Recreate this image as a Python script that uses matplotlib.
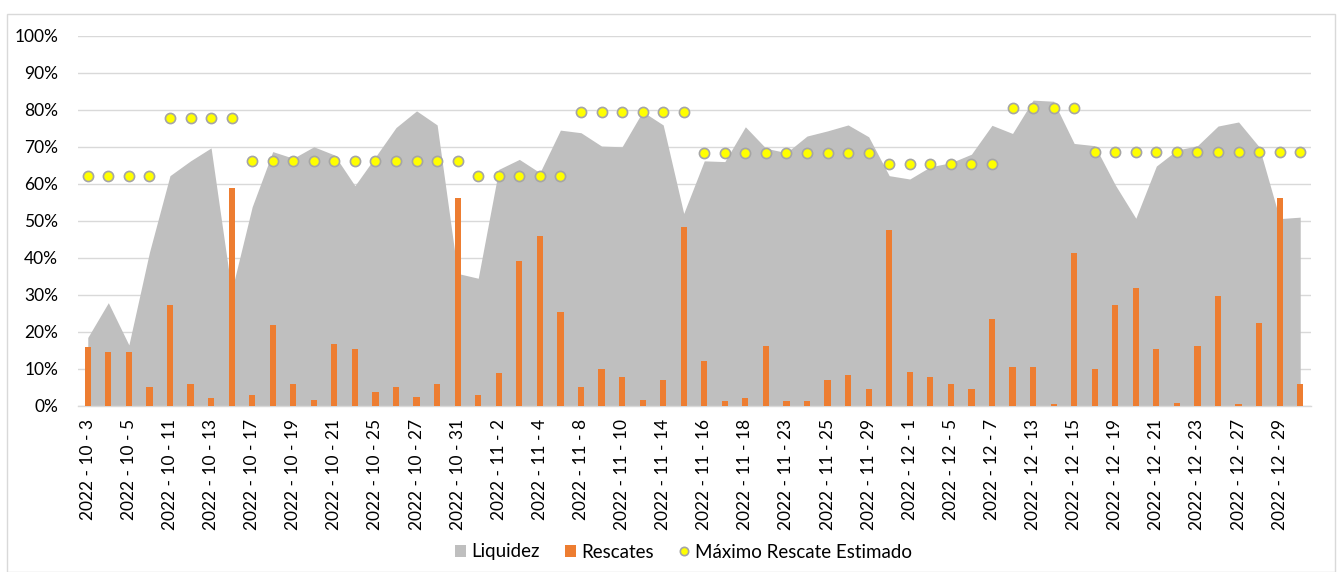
import matplotlib
matplotlib.use("Agg")
import matplotlib.pyplot as plt
from matplotlib.patches import Patch, Rectangle
from matplotlib.lines import Line2D
from matplotlib.ticker import PercentFormatter
import numpy as np

dates = ["2022 - 10 - 3", "2022 - 10 - 4", "2022 - 10 - 5", "2022 - 10 - 6",
         "2022 - 10 - 11", "2022 - 10 - 12", "2022 - 10 - 13", "2022 - 10 - 14",
         "2022 - 10 - 17", "2022 - 10 - 18", "2022 - 10 - 19", "2022 - 10 - 20",
         "2022 - 10 - 21", "2022 - 10 - 24", "2022 - 10 - 25", "2022 - 10 - 26",
         "2022 - 10 - 27", "2022 - 10 - 28", "2022 - 10 - 31", "2022 - 11 - 1",
         "2022 - 11 - 2", "2022 - 11 - 3", "2022 - 11 - 4", "2022 - 11 - 7",
         "2022 - 11 - 8", "2022 - 11 - 9", "2022 - 11 - 10", "2022 - 11 - 11",
         "2022 - 11 - 14", "2022 - 11 - 15", "2022 - 11 - 16", "2022 - 11 - 17",
         "2022 - 11 - 18", "2022 - 11 - 22", "2022 - 11 - 23", "2022 - 11 - 24",
         "2022 - 11 - 25", "2022 - 11 - 28", "2022 - 11 - 29", "2022 - 11 - 30",
         "2022 - 12 - 1", "2022 - 12 - 2", "2022 - 12 - 5", "2022 - 12 - 6",
         "2022 - 12 - 7", "2022 - 12 - 12", "2022 - 12 - 13", "2022 - 12 - 14",
         "2022 - 12 - 15", "2022 - 12 - 16", "2022 - 12 - 19", "2022 - 12 - 20",
         "2022 - 12 - 21", "2022 - 12 - 22", "2022 - 12 - 23", "2022 - 12 - 26",
         "2022 - 12 - 27", "2022 - 12 - 28", "2022 - 12 - 29", "2022 - 12 - 30"]

liquidez = [18.5, 27.9, 16.5, 41.5, 62.2, 66.2, 69.7, 31.0, 53.8, 68.7,
            66.9, 70.0, 67.8, 59.5, 67.3, 75.2, 79.7, 75.9, 35.8, 34.5,
            63.9, 66.6, 63.0, 74.5, 73.8, 70.2, 70.0, 79.5, 75.9, 52.0,
            66.2, 66.0, 75.4, 69.6, 68.4, 72.9, 74.3, 75.9, 72.7, 62.2,
            61.3, 64.6, 65.7, 68.0, 75.8, 73.6, 82.6, 82.3, 70.9, 70.3,
            59.7, 50.7, 64.8, 69.1, 70.3, 75.6, 76.7, 70.0, 50.6, 51.0]

rescates = [15.8, 14.6, 14.6, 5.0, 27.2, 5.9, 2.2, 58.8, 2.9, 21.8,
            5.9, 1.7, 16.7, 15.5, 3.8, 5.0, 2.5, 5.9, 56.3, 2.9,
            8.8, 39.2, 45.9, 25.5, 5.0, 10.0, 7.9, 1.7, 7.1, 48.4,
            12.2, 1.3, 2.2, 16.3, 1.3, 1.3, 7.1, 8.3, 4.6, 47.5,
            9.2, 7.9, 5.9, 4.6, 23.4, 10.4, 10.4, 0.5, 41.2, 10.0,
            27.2, 31.8, 15.4, 0.8, 16.3, 29.7, 0.5, 22.5, 56.3, 5.9]

maximo = [62.0] * 4 + [77.9] * 4 + [66.2] * 11 + [62.0] * 5 + [79.5] * 6 + \
         [68.2] * 9 + [65.4] * 6 + [80.4] * 4 + [68.7] * 11

series_names = ["Liquidez", "Rescates", "Máximo Rescate Estimado"]

FONT = ["Lato", "DejaVu Sans"]
plt.rcParams["font.family"] = FONT

W, H = 1337, 572
fig = plt.figure(figsize=(W / 100, H / 100), dpi=100)
fig.patch.set_facecolor("white")

# outer chart border
fig.patches.append(Rectangle((7 / W, 0), (1335 - 7) / W, (572 - 14) / H,
                             transform=fig.transFigure, fill=False,
                             edgecolor="#D9D9D9", linewidth=1.0))

left, right = 77.5, 1310.5
top, bottom = 35.7, 406
ax = fig.add_axes([left / W, (H - bottom) / H, (right - left) / W, (bottom - top) / H])

x = np.arange(len(dates))
ax.fill_between(x, np.array(liquidez) / 100, 0, color="#BFBFBF", linewidth=0, zorder=2)
ax.bar(x, np.array(rescates) / 100, width=0.3, color="#ED7D31", zorder=3)
ax.plot(x, np.array(maximo) / 100, linestyle="none", marker="o", markersize=7.3,
        markerfacecolor="#FFFF00", markeredgecolor="#A5A5A5", markeredgewidth=1.2, zorder=4)

ax.set_xlim(-0.5, len(dates) - 0.5)
ax.set_ylim(0, 1.0)
ax.set_yticks(np.arange(0, 1.01, 0.1))
ax.yaxis.set_major_formatter(PercentFormatter(1.0, decimals=0))
ax.grid(axis="y", color="#D9D9D9", linewidth=1.0, zorder=0)
ax.set_axisbelow(True)
for s in ["top", "right", "left"]:
    ax.spines[s].set_visible(False)
ax.spines["bottom"].set_color("#D9D9D9")
ax.spines["bottom"].set_linewidth(1.0)

ax.set_xticks(x[::2])
ax.set_xticklabels(dates[::2], rotation=90, fontsize=12.5, color="#000000")
ax.tick_params(axis="x", length=0, pad=9)
ax.tick_params(axis="y", length=0, pad=14, labelsize=12.5, labelcolor="#000000")

handles = [Patch(facecolor="#BFBFBF", edgecolor="none"),
           Patch(facecolor="#ED7D31", edgecolor="none"),
           Line2D([], [], linestyle="none", marker="o", markersize=6,
                  markerfacecolor="#FFFF00", markeredgecolor="#A5A5A5", markeredgewidth=1.2)]
fig.legend(handles, series_names, loc="center", bbox_to_anchor=(683.5 / W, (H - 552) / H),
           ncol=3, frameon=False, fontsize=13.5, handlelength=0.6, handleheight=0.6,
           handletextpad=0.3, columnspacing=1.3)

fig.savefig("out.png", dpi=100)
